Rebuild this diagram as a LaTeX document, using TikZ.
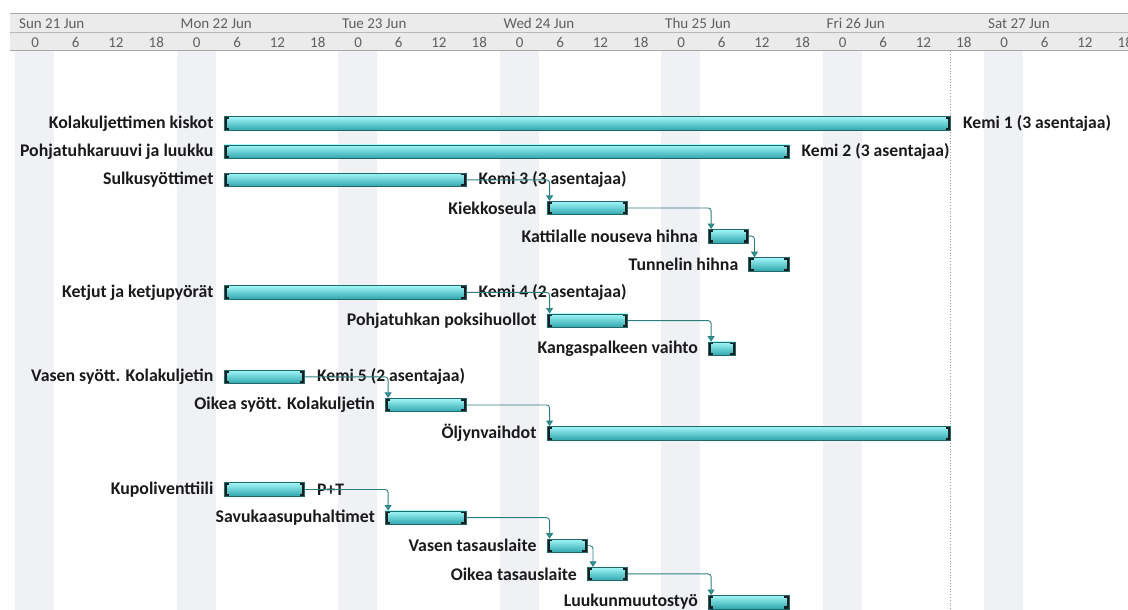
\documentclass[tikz,border=0pt]{standalone}
\usepackage{fontspec}
\setmainfont{Carlito}
\usetikzlibrary{arrows.meta}

\definecolor{hdrbg}{HTML}{EBEBEB}
\definecolor{hdrline}{HTML}{A8A8A8}
\definecolor{hdrtext}{HTML}{5F5F5F}
\definecolor{bandcol}{HTML}{EFF1F5}
\definecolor{bartop}{HTML}{A2F7F9}
\definecolor{barmid}{HTML}{62E6EC}
\definecolor{barbot}{HTML}{2FA6AC}
\definecolor{barline}{HTML}{22686B}
\definecolor{capcol}{HTML}{1A1F20}
\definecolor{linkcol}{HTML}{2E7E80}
\definecolor{arrowcol}{HTML}{2A9A9C}
\definecolor{labelcol}{HTML}{1A1A1A}

% x position of (day, hour): day 0 = Sun 21 Jun
\newcommand\tx[2]{15+(#1)*161.5+(#2)*6.7291667}

\tikzset{
  hdrday/.style={anchor=west, text=hdrtext, font=\fontsize{15}{15}\selectfont, inner sep=0pt},
  hdrhour/.style={text=hdrtext, font=\fontsize{15}{15}\selectfont, inner sep=0pt},
  taskbar/.style={anchor=west, minimum height=13.5pt, inner sep=0pt, draw=barline, line width=0.6pt,
    top color=bartop, middle color=barmid, bottom color=barbot,
    path picture={
      \fill[capcol] (path picture bounding box.south west) rectangle ([xshift=2.6pt]path picture bounding box.north west);
      \fill[capcol] (path picture bounding box.north west) rectangle ([xshift=5pt,yshift=-2.4pt]path picture bounding box.north west);
      \fill[capcol] (path picture bounding box.south west) rectangle ([xshift=5pt,yshift=2.4pt]path picture bounding box.south west);
      \fill[capcol] (path picture bounding box.south east) rectangle ([xshift=-2.6pt]path picture bounding box.north east);
      \fill[capcol] (path picture bounding box.north east) rectangle ([xshift=-5pt,yshift=-2.4pt]path picture bounding box.north east);
      \fill[capcol] (path picture bounding box.south east) rectangle ([xshift=-5pt,yshift=2.4pt]path picture bounding box.south east);
    }},
  tasklabel/.style={anchor=east, text=labelcol, font=\bfseries\fontsize{17.8}{18}\selectfont, inner sep=0pt},
  reslabel/.style={anchor=west, text=labelcol, font=\bfseries\fontsize{17.6}{18}\selectfont, inner sep=0pt},
  link/.style={draw=linkcol, line width=0.9pt, rounded corners=3pt,
    -{Triangle[width=7pt,length=5.5pt,fill=arrowcol]}},
}

% #1 name, #2 label, #3 row y, #4 start day, #5 start hour, #6 length in hours
\newcommand\task[6]{%
  \node[taskbar, minimum width={(#6)*6.7291667}] (#1) at ({\tx{#4}{#5}},#3) {};
  \node[tasklabel] (#1-l) at ([xshift=-10pt]#1.west) {#2};
}
\newcommand\res[2]{\node[reslabel] (#1-r) at ([xshift=12pt]#1.east) {#2};}
\newcommand\link[3]{\draw[link] (#1.east) -| ([xshift=#3pt]#2.north west);}

\begin{document}
\begin{tikzpicture}[x=1pt,y=-1pt]
\useasboundingbox (0,0) rectangle (1128,610);
\clip (0,0) rectangle (1128,610);

% non-working night bands
\foreach \d in {0,...,6}
  \fill[bandcol] ({\tx{\d}{0}},51) rectangle ({\tx{\d}{5.8}},610);

% project finish marker
\draw[black!40, line width=0.8pt, dotted] ({\tx{5}{19}},51) -- ({\tx{5}{19}},610);

% timescale header
\fill[hdrbg] (10,13) rectangle (1128,51);
\draw[hdrline, line width=1.8pt] (10,13.5) -- (1128,13.5);
\draw[hdrline!80, line width=1pt] (10,33) -- (1128,33);
\draw[hdrline, line width=1.8pt] (10,50.5) -- (1128,50.5);

\foreach \d/\lab in {0/Sun 21 Jun,1/Mon 22 Jun,2/Tue 23 Jun,3/Wed 24 Jun,4/Thu 25 Jun,5/Fri 26 Jun,6/Sat 27 Jun}{
  \node[hdrday] (day\d) at ({\tx{\d}{0}+4},23.5) {\lab};
  \foreach \h in {0,6,12,18}
    \node[hdrhour] (hr\d-\h) at ({\tx{\d}{\h+3}},42.5) {\h};
}

% tasks
\task{t1}{Kolakuljettimen kiskot}{123.5}{1}{7}{108}
\task{t2}{Pohjatuhkaruuvi ja luukku}{151.65}{1}{7}{84}
\task{t3}{Sulkusyöttimet}{179.8}{1}{7}{36}
\task{t4}{Kiekkoseula}{207.95}{3}{7}{12}
\task{t5}{Kattilalle nouseva hihna}{236.1}{4}{7}{6}
\task{t6}{Tunnelin hihna}{264.25}{4}{13}{6}
\task{t7}{Ketjut ja ketjupyörät}{292.4}{1}{7}{36}
\task{t8}{Pohjatuhkan poksihuollot}{320.55}{3}{7}{12}
\task{t9}{Kangaspalkeen vaihto}{348.7}{4}{7}{4}
\task{t10}{Vasen syött. Kolakuljetin}{376.85}{1}{7}{12}
\task{t11}{Oikea syött. Kolakuljetin}{405}{2}{7}{12}
\task{t12}{Öljynvaihdot}{433.15}{3}{7}{60}
\task{t13}{Kupoliventtiili}{489.45}{1}{7}{12}
\task{t14}{Savukaasupuhaltimet}{517.6}{2}{7}{12}
\task{t15}{Vasen tasauslaite}{545.75}{3}{7}{6}
\task{t16}{Oikea tasauslaite}{573.9}{3}{13}{6}
\task{t17}{Luukunmuutostyö}{602.05}{4}{7}{12}

% resource names
\res{t1}{Kemi 1 (3 asentajaa)}
\res{t2}{Kemi 2 (3 asentajaa)}
\res{t3}{Kemi 3 (3 asentajaa)}
\res{t7}{Kemi 4 (2 asentajaa)}
\res{t10}{Kemi 5 (2 asentajaa)}
\res{t13}{P+T}

% dependencies
\link{t3}{t4}{3}
\link{t4}{t5}{3}
\link{t5}{t6}{6}
\link{t7}{t8}{3}
\link{t8}{t9}{3}
\link{t10}{t11}{3}
\link{t11}{t12}{3}
\link{t13}{t14}{3}
\link{t14}{t15}{3}
\link{t15}{t16}{6}
\link{t16}{t17}{3}
\end{tikzpicture}
\end{document}
